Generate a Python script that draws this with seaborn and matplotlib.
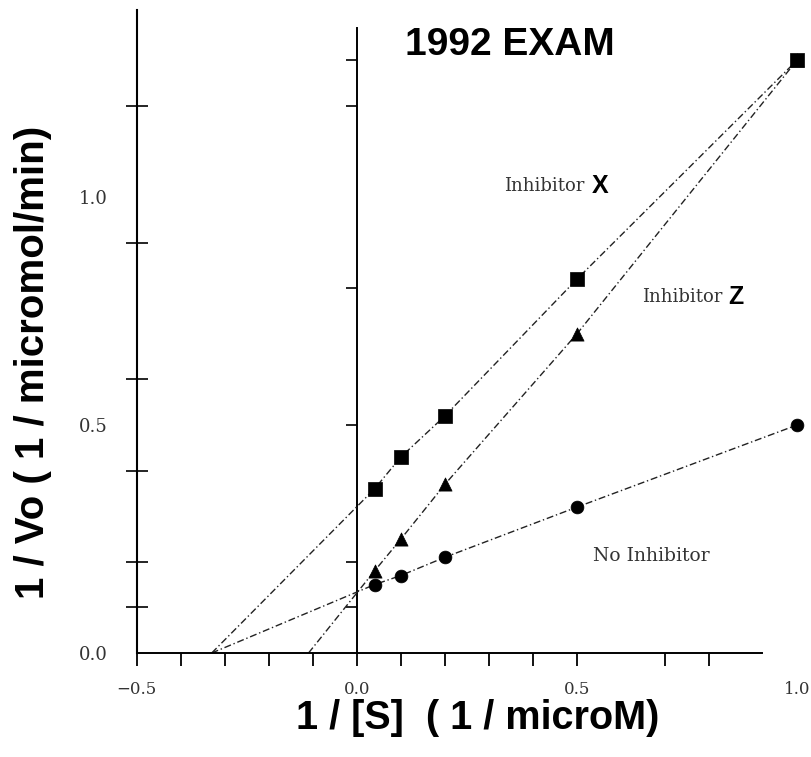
import numpy as np
import pandas as pd
import matplotlib
matplotlib.use("Agg")
import matplotlib.pyplot as plt
import seaborn as sns

# ---- data ----
inv_s = [0.04, 0.1, 0.2, 0.5, 1.0]
inv_v_none = [0.15, 0.17, 0.21, 0.32, 0.50]
inv_v_x = [0.36, 0.43, 0.52, 0.82, 1.30]
inv_v_z = [0.18, 0.25, 0.37, 0.70, 1.30]
x_intercept_none = -0.33
x_intercept_x = -0.33
x_intercept_z = -0.11

x_tick_vals = [-0.5, 0.0, 0.5, 1.0]
x_tick_labels = ["\u22120.5", "0.0", "0.5", "1.0"]
x_minor_vals = [-0.4, -0.3, -0.2, -0.1, 0.1, 0.2, 0.3, 0.4, 0.7, 0.8]
y_tick_vals = [0.0, 0.5, 1.0]
y_tick_labels = ["0.0", "0.5", "1.0"]
y_minor_vals = [0.1, 0.2, 0.4, 0.6, 0.9, 1.2]
y0_axis_ticks = [0.1, 0.2, 0.5, 0.8, 1.2, 1.3]

sns.set_theme(style="white")
plt.rcParams["font.family"] = ["Liberation Sans", "DejaVu Sans"]

fig = plt.figure(figsize=(8.12, 7.57), dpi=100)
ax = fig.add_axes([0, 0, 1, 1])
ax.patch.set_alpha(0)
xlim = (-0.811, 1.034)
ylim = (-0.228, 1.432)
ax.set_xlim(*xlim)
ax.set_ylim(*ylim)

series = [
    (inv_v_x, x_intercept_x, "s", 95),
    (inv_v_z, x_intercept_z, "^", 90),
    (inv_v_none, x_intercept_none, "o", 85),
]
for ys, xi, mk, sz in series:
    lx = [xi] + inv_s
    ly = [0.0] + ys
    sns.lineplot(x=lx, y=ly, ax=ax, color="#222222", linewidth=1.0,
                 linestyle=(0, (5, 2, 1, 2)), sort=False, estimator=None)
    sns.scatterplot(x=inv_s, y=ys, ax=ax, marker=mk, s=sz, color="black",
                    edgecolor="black", linewidth=0.5, zorder=4)

# spines / axes
for s in ["top", "right"]:
    ax.spines[s].set_visible(False)
ax.spines["left"].set_position(("data", -0.5))
ax.spines["left"].set_bounds(0, 1.41)
ax.spines["left"].set_linewidth(1.5)
ax.spines["left"].set_color("black")
ax.spines["bottom"].set_position(("data", 0.0))
ax.spines["bottom"].set_bounds(-0.5, 0.92)
ax.spines["bottom"].set_linewidth(1.4)
ax.spines["bottom"].set_color("black")

ax.set_xticks(x_tick_vals)
ax.set_xticklabels(x_tick_labels)
ax.set_xticks(x_minor_vals, minor=True)
ax.set_yticks(y_tick_vals)
ax.set_yticklabels(y_tick_labels)
ax.set_yticks(y_minor_vals, minor=True)

ax.tick_params(axis="x", which="both", bottom=True, direction="out",
               length=9.5, width=1.3, color="black")
ax.tick_params(axis="x", which="major", pad=10.5, labelsize=12,
               labelcolor="#333333", labelfontfamily="DejaVu Serif")
ax.xaxis.get_major_ticks()[3].tick1line.set_visible(False)
ax.tick_params(axis="y", which="major", left=True, length=0, pad=21,
               labelsize=13, labelcolor="#333333",
               labelfontfamily="DejaVu Serif")
ax.tick_params(axis="y", which="minor", left=True, direction="inout",
               length=16, width=1.2, color="black")

# second vertical axis line at x = 0
frac0 = (0 - xlim[0]) / (xlim[1] - xlim[0])
sec = ax.secondary_yaxis(frac0)
sec.set_yticks(y0_axis_ticks)
sec.set_yticklabels([])
sec.tick_params(direction="out", length=8, width=1.2, color="black")
sec.spines["left"].set_bounds(0, 1.37)
sec.spines["left"].set_linewidth(1.4)
sec.spines["left"].set_color("black")

# labels
ax.set_xlabel("1 / [S]  ( 1 / microM)", fontsize=28.5, fontweight="bold",
              color="black")
ax.xaxis.set_label_coords(478 / 812, 1 - 699 / 757)
ax.set_ylabel("1 / Vo ( 1 / micromol/min)", fontsize=29, fontweight="bold",
              color="black")
ax.yaxis.set_label_coords(52 / 812, 1 - 362 / 757)

fig.text(510 / 812, 1 - 45 / 757, "1992 EXAM", fontsize=28,
         fontweight="bold", ha="center", va="center", color="black")

serif = "DejaVu Serif"
ax.text(0.518, 1.024, "Inhibitor", ha="right", va="center", fontsize=13,
        family=serif, color="#333333")
ax.text(0.534, 1.024, "X", ha="left", va="center", fontsize=18,
        fontweight="bold", color="black")
ax.text(0.83, 0.78, "Inhibitor", ha="right", va="center", fontsize=13,
        family=serif, color="#333333")
ax.text(0.843, 0.78, "Z", ha="left", va="center", fontsize=18,
        fontweight="bold", color="black")
ax.text(0.668, 0.213, "No Inhibitor", ha="center", va="center",
        fontsize=13.5, family=serif, color="#333333")

fig.savefig("out.png", dpi=100, facecolor="white")
